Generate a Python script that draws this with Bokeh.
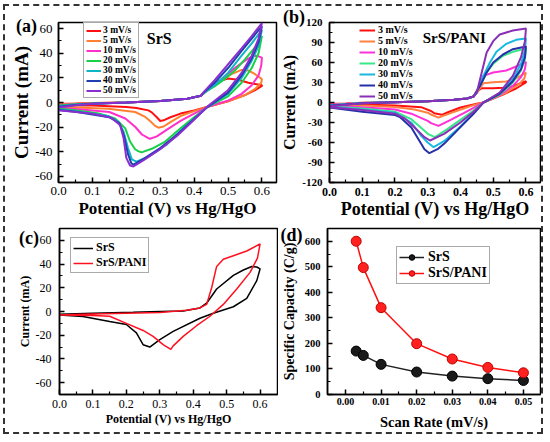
from bokeh.plotting import figure
from bokeh.layouts import row, column
from bokeh.models import (Legend, LegendItem, Label, FixedTicker, PrintfTickFormatter,
                          Range1d, GridBox)
from bokeh.embed import file_html
from bokeh.resources import INLINE

SERIF = "Liberation Serif"

# ---------------- data: panel (a) SrS, CV at several scan rates ----------------
RATES = ["3 mV/s", "5 mV/s", "10 mV/s", "20 mV/s", "30 mV/s", "40 mV/s", "50 mV/s"]

A3_V = [0, 0.05, 0.1, 0.2, 0.3, 0.38, 0.42, 0.43, 0.45, 0.47, 0.5, 0.53, 0.56, 0.6, 0.6, 0.58, 0.55, 0.5, 0.44, 0.4, 0.36, 0.33, 0.31, 0.3, 0.29, 0.275, 0.265, 0.23, 0.2, 0.1, 0]
A3_I = [-1, -0.8, -0.5, 0, 1.3, 3, 5.5, 8, 12, 17, 19.5, 18.5, 16, 14, 13.5, 10, 6, 1, -3.5, -6.5, -9, -12, -14.5, -15, -12, -8, -6.4, -4.5, -3.7, -2.5, -2.4]
A5_V = [0, 0.05, 0.1, 0.2, 0.3, 0.38, 0.42, 0.43, 0.45, 0.48, 0.51, 0.54, 0.56, 0.58, 0.6, 0.598, 0.58, 0.55, 0.5, 0.44, 0.4, 0.36, 0.33, 0.31, 0.295, 0.285, 0.27, 0.256, 0.226, 0.147, 0.05, 0]
A5_I = [-1.5, -1, -0.6, 0, 1.3, 3, 5.5, 8, 12, 18, 23, 26.5, 26, 23, 19, 16, 11, 6, 1, -3.5, -7, -11, -16, -19.5, -20.5, -19, -15, -11.7, -7.7, -5, -4, -3.7]
A10_V = [0, 0.05, 0.1, 0.2, 0.3, 0.38, 0.42, 0.43, 0.46, 0.49, 0.52, 0.55, 0.575, 0.59, 0.6, 0.598, 0.59, 0.57, 0.54, 0.5, 0.44, 0.4, 0.36, 0.32, 0.29, 0.27, 0.265, 0.246, 0.226, 0.197, 0.15, 0.05, 0]
A10_I = [-2, -1.3, -0.8, 0, 1.3, 3, 5.5, 8, 14, 21, 28, 34, 38, 37.5, 36.5, 30, 22, 14, 7, 1.5, -3.5, -9, -15, -22, -27.5, -29.5, -29, -26, -19.7, -13, -7.7, -5.2, -4.5]
A20_V = [0, 0.05, 0.1, 0.2, 0.3, 0.38, 0.42, 0.43, 0.46, 0.49, 0.52, 0.55, 0.58, 0.6, 0.59, 0.57, 0.54, 0.5, 0.44, 0.4, 0.36, 0.315, 0.275, 0.245, 0.235, 0.226, 0.211, 0.197, 0.167, 0.118, 0.05, 0]
A20_I = [-2.5, -1.5, -0.8, 0, 1.3, 3, 5.5, 8, 13, 19, 26, 35, 45, 54, 40, 28, 16, 5, -3.5, -12, -21, -31.7, -37.6, -40.5, -39.5, -38, -31.7, -21, -13, -9, -6.3, -5]
A30_V = [0, 0.05, 0.1, 0.2, 0.3, 0.38, 0.42, 0.43, 0.46, 0.5, 0.54, 0.57, 0.6, 0.59, 0.57, 0.54, 0.5, 0.44, 0.4, 0.36, 0.32, 0.265, 0.23, 0.222, 0.216, 0.205, 0.192, 0.177, 0.147, 0.05, 0]
A30_I = [-3, -1.8, -1, 0, 1.3, 3, 5.5, 8, 14, 24, 38, 48, 59, 46, 34, 20, 7, -3.5, -13, -23, -34, -44, -48, -47, -46, -37, -23.7, -15.7, -11, -7, -5.6]
A40_V = [0, 0.05, 0.1, 0.2, 0.3, 0.38, 0.42, 0.43, 0.46, 0.5, 0.54, 0.57, 0.6, 0.59, 0.57, 0.54, 0.5, 0.44, 0.4, 0.35, 0.3, 0.25, 0.221, 0.215, 0.205, 0.193, 0.18, 0.15, 0.05, 0]
A40_I = [-3.5, -2, -1, 0, 1.3, 3, 5.5, 8.5, 16, 28, 42, 52, 62, 49, 36, 22, 8, -3.5, -13.5, -26, -37, -46, -50.5, -49.5, -42, -27, -17, -12, -7.5, -6]
A50_V = [0, 0.05, 0.1, 0.2, 0.3, 0.38, 0.42, 0.43, 0.46, 0.5, 0.54, 0.57, 0.6, 0.59, 0.57, 0.54, 0.5, 0.44, 0.4, 0.35, 0.3, 0.25, 0.221, 0.211, 0.2, 0.192, 0.182, 0.157, 0.098, 0]
A50_I = [-4, -2.2, -1, 0, 1.3, 3, 5.5, 9, 18, 31, 44, 54, 64.5, 52, 38, 24, 10, -3, -14, -27, -38, -47, -52, -51.2, -45, -29, -18.4, -12.5, -9, -6.4]

# ---------------- data: panel (b) SrS/PANI ----------------
B3_V = [0, 0.05, 0.1, 0.2, 0.3, 0.38, 0.42, 0.44, 0.455, 0.465, 0.5, 0.53, 0.56, 0.6, 0.6, 0.57, 0.53, 0.5, 0.47, 0.45, 0.4, 0.36, 0.343, 0.32, 0.31, 0.28, 0.2, 0.1, 0]
B3_I = [-2, -1.5, -0.5, 0.5, 2, 4, 6, 9, 18, 21.5, 21.5, 22, 24.5, 32, 30, 21, 12, 6, 0, -2, -7.5, -15, -18.5, -16, -12.8, -7, -4.4, -3, -3]
B5_V = [0, 0.05, 0.1, 0.2, 0.3, 0.38, 0.42, 0.44, 0.455, 0.47, 0.5, 0.54, 0.57, 0.6, 0.595, 0.58, 0.54, 0.5, 0.47, 0.44, 0.41, 0.37, 0.333, 0.31, 0.3, 0.26, 0.2, 0.1, 0]
B5_I = [-2.5, -1.7, -0.6, 0.5, 2, 4, 6, 9, 18, 29, 30.5, 31.5, 36, 45, 36, 28, 15, 6, 0, -4, -9, -16, -22.7, -18, -15.3, -10.4, -6.9, -4.4, -4]
B10_V = [0, 0.05, 0.1, 0.2, 0.3, 0.38, 0.42, 0.44, 0.455, 0.47, 0.5, 0.54, 0.57, 0.6, 0.597, 0.585, 0.56, 0.52, 0.47, 0.44, 0.41, 0.37, 0.333, 0.31, 0.3, 0.25, 0.2, 0.1, 0]
B10_I = [-3, -2, -0.7, 0.5, 2, 4, 6, 9, 22, 40, 45, 48, 54, 61, 50, 38, 25, 11, 0, -8, -16, -26, -35, -31, -27.6, -16.8, -10.4, -7, -5]
B20_V = [0, 0.05, 0.1, 0.2, 0.3, 0.38, 0.42, 0.44, 0.46, 0.48, 0.5, 0.53, 0.56, 0.6, 0.597, 0.585, 0.56, 0.52, 0.47, 0.44, 0.4, 0.36, 0.322, 0.3, 0.29, 0.25, 0.2, 0.1, 0]
B20_I = [-4, -2.5, -0.8, 0.5, 2, 4, 6, 9, 25, 45, 58, 70, 76, 81, 65, 48, 30, 12, 0, -12, -26, -40, -52, -47, -42.5, -25, -13.8, -9, -6]
B30_V = [0, 0.05, 0.1, 0.2, 0.3, 0.38, 0.42, 0.44, 0.45, 0.47, 0.49, 0.51, 0.54, 0.57, 0.6, 0.597, 0.585, 0.56, 0.52, 0.47, 0.44, 0.4, 0.35, 0.318, 0.3, 0.28, 0.25, 0.2, 0.1, 0]
B30_I = [-4.5, -2.8, -0.9, 0.5, 2, 4, 6, 9, 15, 40, 60, 76, 88, 94, 96, 78, 58, 35, 14, 0, -16, -36, -58, -67, -60, -50, -30, -15.3, -10.4, -6.5]
B40_V = [0, 0.05, 0.1, 0.2, 0.3, 0.38, 0.42, 0.44, 0.46, 0.48, 0.5, 0.53, 0.56, 0.6, 0.597, 0.585, 0.56, 0.52, 0.47, 0.44, 0.4, 0.35, 0.33, 0.305, 0.29, 0.28, 0.25, 0.215, 0.2, 0.1, 0]
B40_I = [-5, -3, -1, 0.5, 2, 4, 6, 9, 25, 45, 60, 72, 80, 84, 68, 50, 32, 13, 0, -17, -37, -62, -70, -76, -70, -62, -37.5, -21.7, -18.8, -13.8, -7.5]
B50_V = [0, 0.05, 0.1, 0.2, 0.3, 0.38, 0.42, 0.44, 0.45, 0.465, 0.48, 0.5, 0.52, 0.56, 0.6, 0.597, 0.585, 0.56, 0.52, 0.47, 0.44, 0.4, 0.35, 0.307, 0.29, 0.26, 0.23, 0.2, 0.1, 0]
B50_I = [-5.5, -3.2, -1, 0.5, 2, 4, 6, 9, 15, 45, 75, 92, 102, 108, 111, 92, 68, 40, 15, 0, -14, -30, -47, -57, -52, -37.5, -24, -16.8, -11.4, -7]

# ---------------- data: panel (c) comparison at 10 mV/s ----------------
C_SRS_V = [0, 0.1, 0.22, 0.3, 0.37, 0.42, 0.44, 0.47, 0.52, 0.55, 0.575, 0.59, 0.6, 0.59, 0.56, 0.52, 0.46, 0.42, 0.34, 0.3, 0.27, 0.25, 0.23, 0.2, 0.15, 0.07, 0]
C_SRS_I = [-2.3, -1.5, -0.7, 0, 0.4, 3, 7, 19, 30.5, 35, 38, 37.5, 36, 26, 11, 4, -1.5, -5.7, -16.8, -23.8, -30, -28, -18, -11, -8.5, -4.3, -3]
C_PANI_V = [0, 0.1, 0.2, 0.3, 0.38, 0.42, 0.44, 0.455, 0.47, 0.49, 0.52, 0.56, 0.6, 0.592, 0.57, 0.53, 0.49, 0.45, 0.41, 0.37, 0.34, 0.333, 0.31, 0.28, 0.25, 0.2, 0.15, 0.1, 0]
C_PANI_I = [-3, -2.2, -1.5, -0.8, 1, 3, 6, 20, 38, 44, 47, 51, 57, 45, 33, 19, 6, -4, -12, -21, -29, -32, -28, -21, -16, -10, -4, -3.3, -3]

# ---------------- data: panel (d) specific capacity ----------------
SCAN_RATE = [0.003, 0.005, 0.01, 0.02, 0.03, 0.04, 0.05]
CAP_SRS = [170, 153, 118, 88, 72, 62, 55]
CAP_PANI = [600, 497, 340, 199, 139, 106, 85]

PANEL_TAGS = ["(a)", "(b)", "(c)", "(d)"]

COLORS_A = ["#ff1010", "#ff8030", "#ff30c8", "#18d048", "#10b4c8", "#1f3fb0", "#8a2ed0"]
COLORS_B = ["#ff1010", "#ff8040", "#ff30d8", "#38e888", "#18b8e0", "#2630a8", "#8a30b8"]


def make_fig(w, h, xr, yr, bl, br, bt, bb):
    p = figure(width=w, height=h, x_range=Range1d(*xr), y_range=Range1d(*yr),
               output_backend="svg", toolbar_location=None, tools="",
               min_border_left=bl, min_border_right=br,
               min_border_top=bt, min_border_bottom=bb)
    p.grid.visible = False
    p.outline_line_color = "black"
    p.outline_line_width = 1.5
    p.background_fill_color = "white"
    p.border_fill_color = "white"
    for ax in (p.xaxis[0], p.yaxis[0]):
        ax.axis_line_width = 1.5
        ax.major_tick_in = 5
        ax.major_tick_out = 0
        ax.minor_tick_in = 3
        ax.minor_tick_out = 0
        ax.major_tick_line_width = 1.5
        ax.minor_tick_line_width = 1.2
        ax.major_label_text_font = SERIF
        ax.axis_label_text_font = SERIF
        ax.axis_label_text_font_style = "bold"
        ax.major_label_text_color = "black"
        ax.axis_label_text_color = "black"
    return p


def add_label(p, x, y, text, size, bold=True):
    p.add_layout(Label(x=x, y=y, text=text, text_font=SERIF, text_font_size=size,
                       text_font_style="bold" if bold else "normal",
                       text_align="center", text_baseline="middle", text_color="black"))


def style_legend(lg, size, gw, gh, lh, sp, pad, border, standoff=3):
    lg.label_text_font = SERIF
    lg.label_text_font_size = size
    lg.label_text_font_style = "bold"
    lg.label_text_color = "black"
    lg.glyph_width = gw
    lg.glyph_height = gh
    lg.label_height = lh
    lg.label_standoff = standoff
    lg.spacing = sp
    lg.padding = pad
    lg.margin = 0
    if border:
        lg.border_line_color = "#555555"
        lg.border_line_width = 1
        lg.background_fill_color = "white"
        lg.background_fill_alpha = 1
    else:
        lg.border_line_alpha = 0
        lg.background_fill_alpha = 0


X_TICKS = [0.0, 0.1, 0.2, 0.3, 0.4, 0.5, 0.6]
X_MINOR = [0.05, 0.15, 0.25, 0.35, 0.45, 0.55]

# ---------------- panel (a) ----------------
pa = make_fig(273, 215, (0, 0.643), (-65, 65), 53, 2, 15, 39)
pa.xaxis.ticker = FixedTicker(ticks=X_TICKS, minor_ticks=X_MINOR)
pa.xaxis.formatter = PrintfTickFormatter(format="%.1f")
pa.yaxis.ticker = FixedTicker(ticks=[-60, -40, -20, 0, 20, 40, 60], minor_ticks=[-50, -30, -10, 10, 30, 50])
pa.yaxis.formatter = PrintfTickFormatter(format="%d")
pa.xaxis.major_label_text_font_size = "13px"
pa.yaxis.major_label_text_font_size = "13px"
pa.xaxis.major_label_standoff = 4
pa.yaxis.major_label_standoff = 6
pa.xaxis.axis_label = "Potential (V) vs Hg/HgO"
pa.yaxis.axis_label = "Current (mA)"
pa.xaxis.axis_label_text_font_size = "17px"
pa.yaxis.axis_label_text_font_size = "19px"
pa.xaxis.axis_label_standoff = 1
pa.yaxis.axis_label_standoff = 0
items = []
for lab, vv, ii, col in zip(RATES, [A3_V, A5_V, A10_V, A20_V, A30_V, A40_V, A50_V],
                            [A3_I, A5_I, A10_I, A20_I, A30_I, A40_I, A50_I], COLORS_A):
    r = pa.line(vv, ii, line_color=col, line_width=2)
    items.append(LegendItem(label=lab, renderers=[r]))
lga = Legend(items=items, location=(25, 84))
style_legend(lga, "9.5px", 15, 9, 9, 0, 2, True, standoff=2)
pa.add_layout(lga)
add_label(pa, 0.297, 52, "SrS", "16px")

# ---------------- panel (b) ----------------
pb = make_fig(263, 215, (0, 0.6445), (-120, 120), 49, 1, 16, 37)
pb.xaxis.ticker = FixedTicker(ticks=X_TICKS, minor_ticks=X_MINOR)
pb.xaxis.formatter = PrintfTickFormatter(format="%.1f")
pb.yaxis.ticker = FixedTicker(ticks=[-120, -90, -60, -30, 0, 30, 60, 90, 120],
                              minor_ticks=[-105, -75, -45, -15, 15, 45, 75, 105])
pb.yaxis.formatter = PrintfTickFormatter(format="%d")
pb.xaxis.major_label_text_font_size = "12px"
pb.yaxis.major_label_text_font_size = "11px"
pb.xaxis.major_label_text_font_style = "bold"
pb.yaxis.major_label_text_font_style = "bold"
pb.xaxis.major_label_standoff = 5
pb.yaxis.major_label_standoff = 7
pb.xaxis.axis_label = "Potential (V) vs Hg/HgO"
pb.yaxis.axis_label = "Current (mA)"
pb.xaxis.axis_label_text_font_size = "18px"
pb.yaxis.axis_label_text_font_size = "16px"
pb.xaxis.axis_label_standoff = 0
pb.yaxis.axis_label_standoff = 1
items = []
for lab, vv, ii, col in zip(RATES, [B3_V, B5_V, B10_V, B20_V, B30_V, B40_V, B50_V],
                            [B3_I, B5_I, B10_I, B20_I, B30_I, B40_I, B50_I], COLORS_B):
    r = pb.line(vv, ii, line_color=col, line_width=2)
    items.append(LegendItem(label=lab, renderers=[r]))
lgb = Legend(items=items, location=(30, 81))
style_legend(lgb, "10px", 16, 10, 10, 0, 0, False)
pb.add_layout(lgb)
add_label(pb, 0.381, 97, "SrS/PANI", "15px")

# ---------------- panel (c) ----------------
pc = make_fig(273, 211, (0, 0.652), (-70, 70), 54, 1, 7, 38)
pc.xaxis.ticker = FixedTicker(ticks=X_TICKS, minor_ticks=X_MINOR)
pc.xaxis.formatter = PrintfTickFormatter(format="%.1f")
pc.yaxis.ticker = FixedTicker(ticks=[-60, -40, -20, 0, 20, 40, 60], minor_ticks=[-50, -30, -10, 10, 30, 50])
pc.yaxis.formatter = PrintfTickFormatter(format="%d")
pc.xaxis.major_label_text_font_size = "12px"
pc.yaxis.major_label_text_font_size = "12px"
pc.xaxis.major_label_standoff = 5
pc.yaxis.major_label_standoff = 8
pc.xaxis.axis_label = "Potential (V) vs Hg/HgO"
pc.yaxis.axis_label = "Current (mA)"
pc.xaxis.axis_label_text_font_size = "12px"
pc.yaxis.axis_label_text_font_size = "12px"
pc.xaxis.axis_label_standoff = 1
pc.yaxis.axis_label_standoff = 1
r1 = pc.line(C_SRS_V, C_SRS_I, line_color="black", line_width=1.5)
r2 = pc.line(C_PANI_V, C_PANI_I, line_color="#ff1020", line_width=1.5)
lgc = Legend(items=[LegendItem(label="SrS", renderers=[r1]),
                    LegendItem(label="SrS/PANI", renderers=[r2])], location=(11, 121))
style_legend(lgc, "12px", 20, 12, 13, 0, 2, True)
pc.add_layout(lgc)

# ---------------- panel (d) ----------------
pd = make_fig(263, 211, (-0.00506, 0.0548), (0, 650), 49, 1, 7, 37)
pd.xaxis.ticker = FixedTicker(ticks=[0.0, 0.01, 0.02, 0.03, 0.04, 0.05],
                              minor_ticks=[0.005, 0.015, 0.025, 0.035, 0.045])
pd.xaxis.formatter = PrintfTickFormatter(format="%.2f")
pd.yaxis.ticker = FixedTicker(ticks=[0, 100, 200, 300, 400, 500, 600],
                              minor_ticks=[50, 150, 250, 350, 450, 550])
pd.yaxis.formatter = PrintfTickFormatter(format="%d")
pd.xaxis.major_label_text_font_size = "10px"
pd.yaxis.major_label_text_font_size = "10.5px"
pd.xaxis.major_label_text_font_style = "bold"
pd.yaxis.major_label_text_font_style = "bold"
pd.xaxis.major_label_standoff = 3
pd.yaxis.major_label_standoff = 7
pd.xaxis.axis_label = "Scan Rate (mV/s)"
pd.yaxis.axis_label = "Specific Capacity (C/g)"
pd.xaxis.axis_label_text_font_size = "14.5px"
pd.yaxis.axis_label_text_font_size = "14px"
pd.xaxis.axis_label_standoff = 6
pd.yaxis.axis_label_standoff = 5
l1 = pd.line(SCAN_RATE, CAP_SRS, line_color="#222222", line_width=1.5)
s1 = pd.scatter(SCAN_RATE, CAP_SRS, size=10, fill_color="#1a1a1a", line_color="#000000", line_width=1)
l2 = pd.line(SCAN_RATE, CAP_PANI, line_color="#ff1010", line_width=1.5)
s2 = pd.scatter(SCAN_RATE, CAP_PANI, size=10, fill_color="#ff2020", line_color="#c00000", line_width=1)
lgd = Legend(items=[LegendItem(label="SrS", renderers=[l1, s1]),
                    LegendItem(label="SrS/PANI", renderers=[l2, s2])], location=(69, 110))
style_legend(lgd, "14px", 25, 14, 15, 0, 2, True, standoff=4)
pd.add_layout(lgd)

# ---------------- transparent overlay for the panel tags ----------------
po = figure(width=536, height=426, x_range=Range1d(0, 536), y_range=Range1d(426, 0),
            output_backend="svg", toolbar_location=None, tools="",
            x_axis_location=None, y_axis_location=None, min_border=0)
po.grid.visible = False
po.outline_line_color = None
po.background_fill_alpha = 0
po.border_fill_alpha = 0
for tag, tx, ty in zip(PANEL_TAGS, [21, 288.5, 23.5, 286], [19, 10, 231.5, 228.5]):
    add_label(po, tx, ty, tag, "18px")

panels = column(row(pa, pb), row(pc, pd))
layout = GridBox(children=[(panels, 0, 0), (po, 0, 0)],
                 styles={"border": "2px dashed #333333", "margin-left": "3px", "margin-top": "4px"})

open("out.html", "w").write(file_html(layout, INLINE))
